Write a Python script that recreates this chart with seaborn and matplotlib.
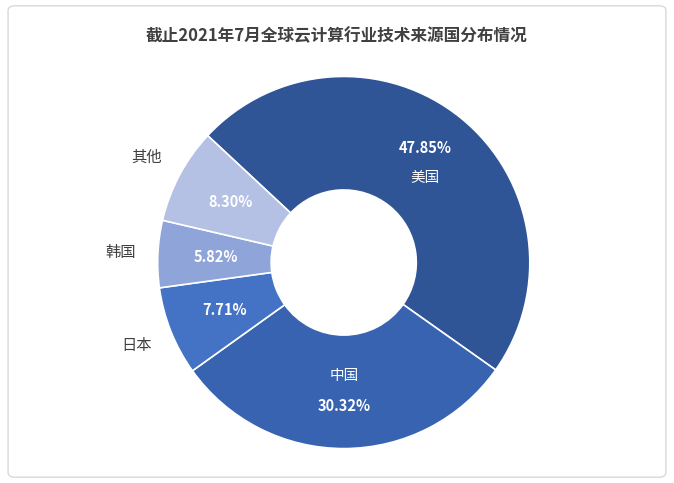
import matplotlib
matplotlib.use("Agg")
import matplotlib.pyplot as plt
import seaborn as sns
import numpy as np
from matplotlib.patches import FancyBboxPatch

sns.set_theme(style="white", font="Noto Sans CJK SC")

categories = ["美国", "中国", "日本", "韩国", "其他"]
values = [47.85, 30.32, 7.71, 5.82, 8.30]
colors = ["#2F5597", "#3763B0", "#4472C4", "#8FA5D9", "#B4C1E5"]

fig = plt.figure(figsize=(6.74, 4.83), dpi=100)
fig.patches.append(FancyBboxPatch((0.012, 0.012), 0.976, 0.976, boxstyle="round,pad=0,rounding_size=0.01",
                                  transform=fig.transFigure, fill=False, edgecolor="#D9D9D9", lw=1))
ax = fig.add_axes([0.22, 0.052, 0.58, 0.809])
ax.set_aspect("equal")
wedges, _ = ax.pie(values, colors=colors, startangle=137, counterclock=False,
                   radius=1.0, wedgeprops=dict(width=0.61, edgecolor="white", linewidth=1.2))
ax.set_xlim(-1.05, 1.05); ax.set_ylim(-1.05, 1.05)

for w, c, v in zip(wedges, categories, values):
    ang = np.deg2rad((w.theta1 + w.theta2) / 2)
    r = 0.69
    x, y = r * np.cos(ang), r * np.sin(ang)
    if v > 20:
        if c == "美国":
            ax.text(x, y + 0.08, f"{v:.2f}%", color="white", ha="center", va="center", fontsize=10.5, fontweight="bold")
            ax.text(x, y - 0.08, c, color="white", ha="center", va="center", fontsize=10.5)
        else:
            ax.text(x, y + 0.08, c, color="white", ha="center", va="center", fontsize=10.5)
            ax.text(x, y - 0.08, f"{v:.2f}%", color="white", ha="center", va="center", fontsize=10.5, fontweight="bold")
    else:
        ax.text(x, y, f"{v:.2f}%", color="white", ha="center", va="center", fontsize=10.5, fontweight="bold")
        xo, yo = 1.2 * np.cos(ang), 1.2 * np.sin(ang)
        ax.text(xo, yo, c, color="#404040", ha="center", va="center", fontsize=11)

fig.text(0.5, 0.925, "截止2021年7月全球云计算行业技术来源国分布情况", ha="center", va="center",
         fontsize=12, fontweight="bold", color="#404040")
fig.savefig("out.png", dpi=100)
